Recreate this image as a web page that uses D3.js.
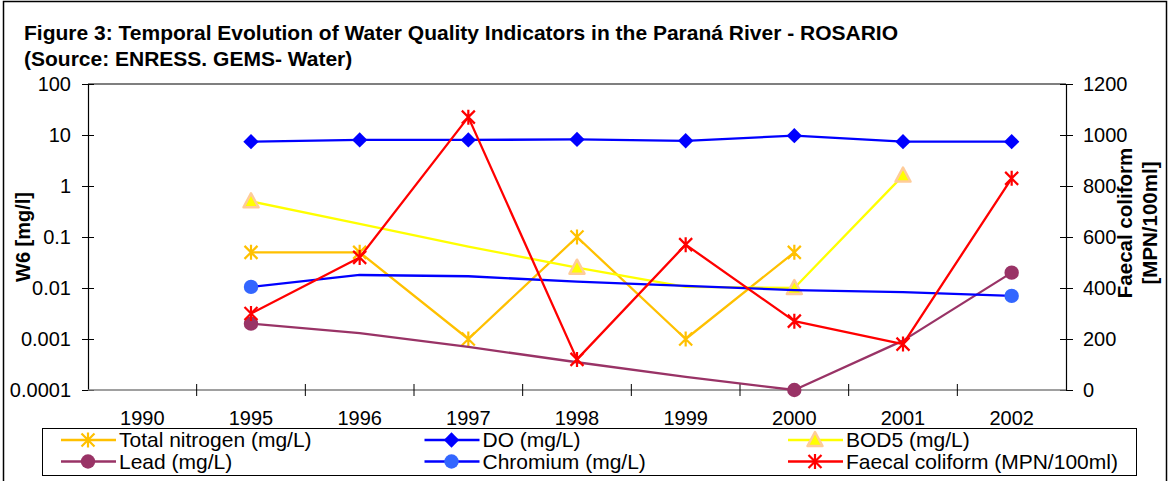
<!DOCTYPE html>
<html>
<head>
<meta charset="utf-8">
<script src="https://cdn.jsdelivr.net/npm/d3@7"></script>
<style>
body { margin:0; background:#fff; }
svg { display:block; font-family:"Liberation Sans", Arial, sans-serif; }
</style>
</head>
<body>
<svg width="1170" height="481"></svg>
<script>
// data
var years = ["1990","1995","1996","1997","1998","1999","2000","2001","2002"];
var totalNitrogen = [null, 0.05, 0.05, 0.001, 0.1, 0.001, 0.05, null, null];
var dissolvedO2 = [null, 7.4, 8.0, 8.0, 8.2, 7.7, 9.7, 7.4, 7.4];
var bod5 = [null, 0.5, 0.18, 0.065, 0.025, 0.0105, 0.01, 1.6, null];
var lead = [null, 0.002, 0.0013, 0.0007, 0.00035, 0.00018, 0.0001, 0.00093, 0.02];
var chromium = [null, 0.0105, 0.018, 0.017, 0.0133, 0.011, 0.0091, 0.0083, 0.007];
var faecal = [null, 300, 520, 1070, 120, 570, 270, 180, 830];
// years that carry a visible marker (the other points are line only)
var bod5Marked = ["1995","1998","2000","2001"];
var leadMarked = ["1995","2000","2002"];
var chromiumMarked = ["1995","2002"];
var leftTicks = [0.0001, 0.001, 0.01, 0.1, 1, 10, 100];
var rightTicks = [0, 200, 400, 600, 800, 1000, 1200];

var svg = d3.select("svg");
var pLeft = 88, pRight = 1066, pTop = 84, pBottom = 390;

// outer chart frame
svg.append("rect")
  .attr("x", 3.5).attr("y", 1.5)
  .attr("width", 1163).attr("height", 520)
  .attr("fill", "#fff")
  .style("stroke", "#000")
  .style("stroke-width", 1.5);

svg.append("text")
  .attr("x", 24).attr("y", 40)
  .style("font-size", "21px").style("font-weight", "bold")
  .text("Figure 3: Temporal Evolution of Water Quality Indicators in the Paraná River - ROSARIO");
svg.append("text")
  .attr("x", 24).attr("y", 66)
  .style("font-size", "21px").style("font-weight", "bold")
  .text("(Source: ENRESS. GEMS- Water)");

var x = d3.scaleBand().domain(years).range([pLeft, pRight]).padding(0);
var y = d3.scaleLog().domain([0.0001, 100]).range([pBottom, pTop]);
var y2 = d3.scaleLinear().domain([0, 1200]).range([pBottom, pTop]);
var cx = function(i) { return x(years[i]) + x.bandwidth() / 2; };

// plot area border
svg.append("line").attr("x1", pLeft).attr("x2", pRight).attr("y1", pTop).attr("y2", pTop)
  .style("stroke", "#000").style("stroke-width", 1.2);

// left axis
var yAxis = svg.append("g")
  .attr("transform", "translate(" + pLeft + ",0)")
  .call(d3.axisLeft(y).tickValues(leftTicks).tickSizeInner(6).tickSizeOuter(0)
    .tickFormat(function(d) { return d3.format("~g")(d); }));
yAxis.selectAll(".tick line").attr("x1", 6);
yAxis.selectAll("text").attr("x", -17).style("font-size", "20px").style("font-family", "inherit").attr("fill", "#000");
yAxis.select(".domain").style("stroke", "#000").style("stroke-width", 1.2);

// right axis
var y2Axis = svg.append("g")
  .attr("transform", "translate(" + pRight + ",0)")
  .call(d3.axisRight(y2).tickValues(rightTicks).tickSizeInner(7).tickSizeOuter(0)
    .tickFormat(d3.format("d")));
y2Axis.selectAll(".tick line").attr("x1", -6);
y2Axis.selectAll("text").attr("x", 17).style("font-size", "20px").style("font-family", "inherit").attr("fill", "#000");
y2Axis.select(".domain").style("stroke", "#000").style("stroke-width", 1.2);

// bottom axis: ticks sit on category edges
var edges = years.map(function(d) { return x(d); }).concat([pRight]);
var xAxis = svg.append("g").attr("class", "xaxis");
xAxis.append("line").attr("x1", pLeft).attr("x2", pRight).attr("y1", pBottom).attr("y2", pBottom)
  .style("stroke", "#808080").style("stroke-width", 1.5);
xAxis.selectAll(".xt").data(edges.slice(1, -1)).enter().append("line")
  .attr("x1", function(d) { return d; }).attr("x2", function(d) { return d; })
  .attr("y1", pBottom - 6).attr("y2", pBottom + 6)
  .style("stroke", "#000").style("stroke-width", 1);
xAxis.selectAll(".xl").data(years).enter().append("text")
  .attr("x", function(d) { return x(d) + x.bandwidth() / 2; })
  .attr("y", 425)
  .attr("text-anchor", "middle")
  .style("font-size", "20px")
  .text(function(d) { return d; });

// axis titles
svg.append("text")
  .attr("transform", "translate(30," + ((pTop + pBottom) / 2) + ") rotate(-90)")
  .attr("text-anchor", "middle")
  .style("font-size", "20px").style("font-weight", "bold")
  .text("W6 [mg/l]");
svg.append("text")
  .attr("transform", "translate(1132,223) rotate(-90)")
  .attr("text-anchor", "middle")
  .style("font-size", "20.5px").style("font-weight", "bold")
  .text("Faecal coliform");
svg.append("text")
  .attr("transform", "translate(1157,223) rotate(-90)")
  .attr("text-anchor", "middle")
  .style("font-size", "20.5px").style("font-weight", "bold")
  .text("[MPN/100ml]");

// marker drawing
function drawMarker(g, shape, px, py) {
  if (shape.type == "star") {
    var s = 6.5;
    g.append("path")
      .attr("d", "M" + (px - s) + "," + (py - s) + "L" + (px + s) + "," + (py + s) +
                 "M" + (px - s) + "," + (py + s) + "L" + (px + s) + "," + (py - s) +
                 "M" + px + "," + (py - s - 1) + "L" + px + "," + (py + s + 1))
      .style("stroke", shape.color).style("stroke-width", 2.2).style("fill", "none");
  } else if (shape.type == "diamond") {
    g.append("path")
      .attr("d", d3.symbol().type(d3.symbolDiamond2).size(150)())
      .attr("transform", "translate(" + px + "," + py + ")")
      .style("fill", shape.color);
  } else if (shape.type == "circle") {
    g.append("circle").attr("cx", px).attr("cy", py).attr("r", 7.2)
      .style("fill", shape.color);
  } else if (shape.type == "triangle") {
    g.append("path")
      .attr("d", "M" + px + "," + (py - 8) + "L" + (px + 7.5) + "," + (py + 6) + "L" + (px - 7.5) + "," + (py + 6) + "Z")
      .style("fill", "#ffff00").style("stroke", shape.color).style("stroke-width", 2.5)
      .style("stroke-linejoin", "round");
  }
}

var series = [
  {name: "Total nitrogen (mg/L)", values: totalNitrogen, scale: y, line: "#ffc000", marker: {type: "star", color: "#ffc000"}, marked: null},
  {name: "DO (mg/L)", values: dissolvedO2, scale: y, line: "#0000ff", marker: {type: "diamond", color: "#0000ff"}, marked: null},
  {name: "BOD5 (mg/L)", values: bod5, scale: y, line: "#ffff00", marker: {type: "triangle", color: "#ffcc99"}, marked: bod5Marked},
  {name: "Lead (mg/L)", values: lead, scale: y, line: "#993366", marker: {type: "circle", color: "#993366"}, marked: leadMarked},
  {name: "Chromium (mg/L)", values: chromium, scale: y, line: "#0000ff", marker: {type: "circle", color: "#3366ff"}, marked: chromiumMarked},
  {name: "Faecal coliform (MPN/100ml)", values: faecal, scale: y2, line: "#ff0000", marker: {type: "star", color: "#ff0000"}, marked: null}
];

var plot = svg.append("g");
series.forEach(function(s) {
  var pts = [];
  s.values.forEach(function(v, i) { if (v != null) pts.push([i, v]); });
  var line = d3.line()
    .x(function(d) { return cx(d[0]); })
    .y(function(d) { return s.scale(d[1]); });
  var g = plot.append("g");
  g.append("path").attr("d", line(pts))
    .style("fill", "none").style("stroke", s.line).style("stroke-width", 2.3)
    .style("stroke-linejoin", "round");
  pts.forEach(function(d) {
    if (s.marked && s.marked.indexOf(years[d[0]]) < 0) return;
    drawMarker(g, s.marker, cx(d[0]), s.scale(d[1]));
  });
});

// legend
svg.append("rect")
  .attr("x", 42.5).attr("y", 428.5).attr("width", 1094).attr("height", 47)
  .attr("fill", "#fff").style("stroke", "#000").style("stroke-width", 1);

var legend = svg.selectAll(".legend")
  .data(series)
  .enter().append("g")
  .attr("class", "legend")
  .attr("transform", function(d, i) { return "translate(" + (88 + (i % 3) * 363.5) + "," + (440 + Math.floor(i / 3) * 21.5) + ")"; });

legend.append("line")
  .attr("x1", -27).attr("x2", 28).attr("y1", 0).attr("y2", 0)
  .style("stroke", function(d) { return d.line; }).style("stroke-width", 2.3);
legend.each(function(d) { drawMarker(d3.select(this), d.marker, 0, 0); });
legend.append("text")
  .attr("x", 31).attr("y", 7)
  .style("font-size", "21px")
  .text(function(d) { return d.name; });
</script>
</body>
</html>
